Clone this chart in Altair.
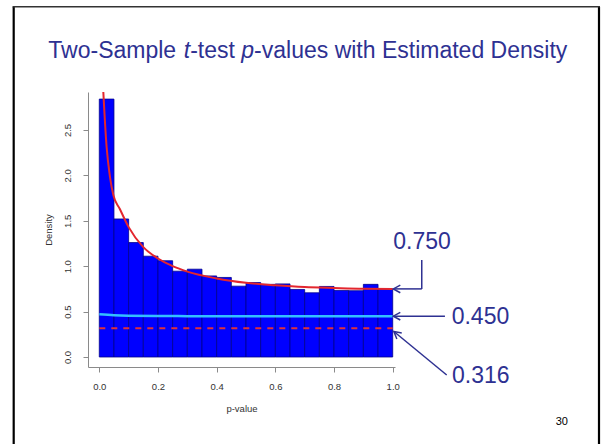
import altair as alt
import pandas as pd

# Histogram of two-sample t-test p-values (20 bins of width 0.05), density scale
bin_edges = [0.00, 0.05, 0.10, 0.15, 0.20, 0.25, 0.30, 0.35, 0.40, 0.45, 0.50,
             0.55, 0.60, 0.65, 0.70, 0.75, 0.80, 0.85, 0.90, 0.95, 1.00]
bin_density = [2.84, 1.52, 1.26, 1.11, 1.06, 0.945, 0.967, 0.893, 0.876, 0.78,
               0.82, 0.80, 0.805, 0.744, 0.707, 0.777, 0.733, 0.73, 0.80, 0.75]

# Estimated density of the p-values (red curve)
kde_x = [0.010, 0.025, 0.0365, 0.048, 0.07, 0.10, 0.15, 0.20, 0.25, 0.30,
         0.40, 0.50, 0.60, 0.70, 0.80, 0.90, 1.00]
kde_y = [3.15, 2.31, 1.98, 1.78, 1.63, 1.43, 1.21, 1.085, 1.0, 0.94,
         0.865, 0.817, 0.79, 0.77, 0.76, 0.752, 0.75]

# Fitted component density (light blue curve)
fit_x = [0.00, 0.05, 0.10, 0.20, 0.30, 0.50, 0.75, 1.00]
fit_y = [0.47, 0.46, 0.455, 0.452, 0.45, 0.45, 0.45, 0.45]

# Reference level (red dashed line)
null_level = 0.316

# Value callouts at p = 1
callout_values = [0.750, 0.450, 0.316]
callout_text = ["0.750", "0.450", "0.316"]

TEXT_BLUE = "#2E3192"
AXIS_GREY = "#8a8a8a"
X_DOMAIN = [-0.0385, 1.0078]
Y_DOMAIN = [-0.110, 2.918]

X_SCALE = alt.Scale(domain=X_DOMAIN, nice=False, zero=False)
Y_SCALE = alt.Scale(domain=Y_DOMAIN, nice=False, zero=False)
X_AXIS = alt.Axis(values=[0, 0.2, 0.4, 0.6, 0.8, 1.0], format=".1f", title="p-value",
                  grid=False, tickSize=5, labelPadding=9, titlePadding=13)
Y_AXIS = alt.Axis(values=[0, 0.5, 1.0, 1.5, 2.0, 2.5], format=".1f", title="Density",
                  grid=False, tickSize=5, labelAngle=270, labelAlign="center",
                  labelBaseline="bottom", labelPadding=11, titlePadding=9)


def X(field):
    return alt.X(field, type="quantitative", scale=X_SCALE, axis=X_AXIS)


def Y(field):
    return alt.Y(field, type="quantitative", scale=Y_SCALE, axis=Y_AXIS)


bars_df = pd.DataFrame({"x0": bin_edges[:-1], "x1": bin_edges[1:], "d": bin_density})
bars_df["base"] = 0.0
bars = alt.Chart(bars_df).mark_rect(color="#0000FF", stroke="#00008B", strokeWidth=0.8).encode(
    x=X("x0"), x2="x1", y=Y("base"), y2="d"
)

kde = alt.Chart(pd.DataFrame({"x": kde_x, "y": kde_y})).mark_line(
    color="#E3262E", strokeWidth=2, interpolate="monotone", clip=True
).encode(x=X("x"), y=Y("y"))

fit = alt.Chart(pd.DataFrame({"x": fit_x, "y": fit_y})).mark_line(
    color="#33BFFF", strokeWidth=2.5, interpolate="monotone"
).encode(x=X("x"), y=Y("y"))

null_df = pd.DataFrame({"x": [0.0], "x2": [1.0], "y": [null_level]})
null_line = alt.Chart(null_df).mark_rule(color="#E0303A", strokeWidth=2, strokeDash=[6, 6]).encode(
    x=X("x"), x2="x2", y=Y("y")
)

# Callout arrows: tip at p = 1 at the stated value, tails to the right of the plot
tip_x = 1.002
arrow_rows = [
    # 0.750: elbow (down, then left)
    {"x": 1.099, "y": 1.068, "x2": 1.099, "y2": callout_values[0]},
    {"x": 1.099, "y": callout_values[0], "x2": tip_x, "y2": callout_values[0]},
    # 0.450: straight
    {"x": 1.178, "y": callout_values[1], "x2": tip_x, "y2": callout_values[1]},
    # 0.316: diagonal
    {"x": 1.184, "y": -0.198, "x2": 1.004, "y2": callout_values[2] - 0.035},
]
arrows = alt.Chart(pd.DataFrame(arrow_rows)).mark_rule(color=TEXT_BLUE, strokeWidth=1.5).encode(
    x=X("x"), y=Y("y"), x2="x2", y2="y2"
)

head_path = "M1,-0.55L0,0L1,0.55"
heads_df = pd.DataFrame({
    "x": [tip_x, tip_x, 1.004],
    "y": [callout_values[0], callout_values[1], callout_values[2] - 0.035],
    "angle": [0, 0, 39.4],
})
heads = alt.Chart(heads_df).mark_point(
    shape=head_path, size=196, filled=False, color=TEXT_BLUE, strokeWidth=1.5, opacity=1
).encode(x=X("x"), y=Y("y"), angle=alt.Angle("angle:Q", scale=None))

labels_df = pd.DataFrame({
    "x": [1.002, 1.201, 1.202],
    "y": [1.189, 0.363, -0.29],
    "t": callout_text,
})
labels = alt.Chart(labels_df).mark_text(
    align="left", baseline="alphabetic", fontSize=23, font="Liberation Sans", color=TEXT_BLUE
).encode(x=X("x"), y=Y("y"), text="t:N")

# Slide title, with italic t and p
one = pd.DataFrame({"k": [0]})
title_parts = [
    ("Two-Sample ", "normal", -39.7),
    ("t", "italic", 95.8),
    ("-test ", "normal", 102.2),
    ("p", "italic", 153.3),
    ("-values with Estimated Density", "normal", 166.1),
]
title_layers = [
    alt.Chart(one).mark_text(
        text=txt, fontStyle=style, align="left", baseline="alphabetic", fontSize=23,
        font="Liberation Sans", color=TEXT_BLUE
    ).encode(x=alt.value(px), y=alt.value(-33.7))
    for txt, style, px in title_parts
]

page_no = alt.Chart(one).mark_text(
    text="30", align="right", baseline="alphabetic", fontSize=11, font="Liberation Sans", color="black"
).encode(x=alt.value(480), y=alt.value(333))

# Slide frame
frame_left = alt.Chart(one).mark_rule(color="black", strokeWidth=2.2).encode(
    x=alt.value(-74.3), y=alt.value(-85.3), y2=alt.value(360)
)
frame_right = alt.Chart(one).mark_rule(color="black", strokeWidth=2.2).encode(
    x=alt.value(511), y=alt.value(-85.3), y2=alt.value(360)
)
frame_top = alt.Chart(one).mark_rule(color="#333333", strokeWidth=1.5).encode(
    x=alt.value(-75.4), x2=alt.value(512), y=alt.value(-85.3)
)

chart = alt.layer(
    bars, null_line, fit, kde, arrows, heads, labels, page_no, frame_left, frame_right, frame_top,
    *title_layers
).properties(
    width=307, height=275,
    padding={"left": 88, "top": 92, "right": 207, "bottom": 77},
    autosize=alt.AutoSizeParams(type="none"),
    background="white",
).configure_view(stroke=None).configure_axis(
    domainColor=AXIS_GREY, tickColor=AXIS_GREY, labelColor="#333333", titleColor="#333333",
    labelFont="Liberation Sans", titleFont="Liberation Sans", labelFontSize=9.5, titleFontSize=9.5,
    titleFontWeight="normal"
)

chart.save("out.html", embed_options={"renderer": "svg", "actions": False})
